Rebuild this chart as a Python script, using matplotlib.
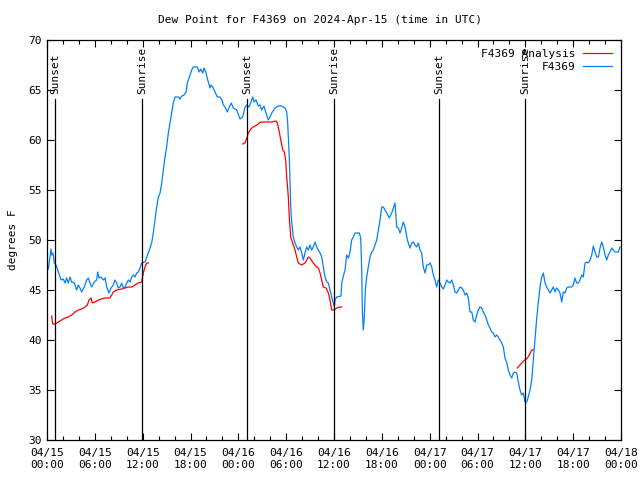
#! /usr/bin/env python3

import matplotlib
matplotlib.use("Agg")
import matplotlib.pyplot as plt
import matplotlib.dates as mdates
import numpy as np
import pandas as pd

plt.rcParams['font.family'] = ['DejaVu Sans Mono']
plt.rcParams['font.size'] = 8

start = pd.Timestamp("2024-04-15 00:00")

# hours since 04/15 00:00 UTC, dew point in degrees F
obs_hours = [0.0, 0.16, 0.50, 0.59, 0.75, 0.92, 1.13, 1.42, 1.76, 2.04, 2.26, 2.47, 2.67, 2.89,
             3.10, 3.42, 3.73, 3.93, 4.14, 4.35, 4.68, 4.98, 5.18, 5.39, 5.61, 5.93, 6.23, 6.36,
             6.52, 6.77, 7.06, 7.28, 7.49, 7.78, 8.03, 8.32, 8.53, 8.74, 8.94, 9.16, 9.37, 9.57,
             9.78, 10.00, 10.20, 10.41, 10.62, 10.83, 11.04, 11.25, 11.45, 11.67, 11.88, 12.29,
             12.71, 13.13, 13.33, 13.55, 13.76, 13.96, 14.18, 14.39, 14.59, 14.80, 15.01, 15.22,
             15.43, 15.64, 15.84, 16.06, 16.47, 16.68, 16.90, 17.19, 17.44, 17.60, 17.85, 18.15,
             18.35, 18.85, 19.10, 19.28, 19.53, 19.69, 19.95, 20.16, 20.45, 20.57, 20.79, 21.07,
             21.36, 21.70, 21.95, 22.12, 22.33, 22.62, 22.87, 23.12, 23.37, 23.80, 24.21, 24.55,
             24.80, 25.05, 25.34, 25.59, 25.80, 25.97, 26.22, 26.51, 26.72, 26.93, 27.22, 27.47,
             27.76, 27.97, 28.19, 28.60, 29.01, 29.44, 29.85, 30.07, 30.19, 30.27, 30.39, 30.48,
             30.57, 30.70, 30.90, 31.11, 31.32, 31.52, 31.74, 31.95, 32.15, 32.36, 32.58, 32.78,
             32.99, 33.20, 33.40, 33.62, 33.83, 34.03, 34.25, 34.46, 34.66, 34.87, 35.09, 35.29,
             35.50, 35.71, 35.91, 36.04, 36.13, 36.34, 36.88, 36.97, 37.17, 37.38, 37.59, 37.80,
             38.01, 38.22, 38.42, 38.64, 39.18, 39.35, 39.48, 39.55, 39.68, 39.80, 39.93, 40.10,
             40.30, 40.52, 40.73, 40.93, 41.14, 41.36, 41.56, 41.77, 41.99, 42.19, 42.40, 42.61,
             42.94, 43.24, 43.65, 43.87, 44.07, 44.28, 44.49, 44.69, 44.91, 45.20, 45.53, 45.75,
             45.95, 46.16, 46.37, 46.58, 46.79, 47.00, 47.20, 47.42, 47.63, 47.83, 48.05, 48.26,
             48.46, 48.67, 48.88, 49.09, 49.30, 49.51, 49.71, 49.93, 50.14, 50.34, 50.55, 50.77,
             50.97, 51.18, 51.39, 51.60, 51.81, 52.02, 52.22, 52.44, 52.65, 52.85, 53.06, 53.28,
             53.48, 53.69, 53.90, 54.10, 54.32, 54.53, 54.73, 54.94, 55.16, 55.36, 55.57, 55.78,
             55.98, 56.20, 56.41, 56.61, 56.83, 57.04, 57.24, 57.45, 57.67, 57.87, 58.08, 58.29,
             58.49, 58.71, 58.92, 59.12, 59.33, 59.54, 59.75, 59.96, 60.17, 60.37, 60.59, 60.80,
             61.00, 61.22, 61.43, 61.63, 61.84, 62.06, 62.26, 62.47, 62.68, 62.89, 63.10, 63.31,
             63.51, 63.72, 63.94, 64.14, 64.35, 64.56, 64.76, 64.98, 65.19, 65.39, 65.82, 66.02,
             66.23, 66.44, 66.65, 66.86, 67.07, 67.27, 67.49, 67.70, 67.90, 68.12, 68.33, 68.53,
             68.74, 68.96, 69.16, 69.37, 69.58, 69.78, 70.00, 70.21, 70.41, 70.62, 70.84, 71.04,
             71.25, 71.67, 71.88]
obs_dewpt = [47.0, 47.1, 49.1, 48.5, 48.7, 47.7, 47.5, 46.8, 46.0, 46.1, 45.7, 46.2, 45.7, 46.3,
             45.8, 45.7, 45.0, 45.5, 45.2, 44.8, 45.3, 46.0, 46.2, 45.7, 45.3, 45.8, 46.0, 46.8,
             46.2, 46.3, 46.0, 46.2, 45.3, 44.7, 45.2, 45.5, 46.0, 45.7, 45.2, 45.3, 45.7, 45.2,
             45.3, 45.7, 46.0, 45.8, 46.3, 46.5, 46.3, 46.7, 46.8, 47.2, 47.7, 47.8,
             48.7, 49.7, 50.7, 52.0, 53.3, 54.3, 54.7, 55.7, 57.0, 58.3, 59.3, 60.7,
             61.7, 62.7, 63.7, 64.3, 64.3, 64.1, 64.4, 64.5, 64.8, 65.7, 66.3, 67.0,
             67.3, 67.3, 66.8, 67.1, 66.7, 67.2, 66.7, 66.0, 65.2, 65.5, 65.3, 64.8,
             64.3, 64.3, 64.0, 63.5, 63.3, 62.8, 63.3, 63.7, 63.2, 63.0, 62.1, 62.3,
             63.2, 63.5, 63.3, 63.8, 64.3, 63.8, 64.0, 63.4, 63.5, 63.0, 63.4, 62.7,
             62.0, 62.3, 62.7, 63.2, 63.4, 63.4, 63.2, 62.8, 61.7, 60.3, 58.3, 55.7,
             53.3, 51.7, 50.3, 49.7, 49.3, 49.0, 49.3, 48.7, 48.0, 48.7, 49.3, 49.0,
             49.5, 49.0, 49.3, 49.8, 49.3, 49.0, 48.7, 48.3, 47.3, 46.3, 45.8, 45.7,
             45.0, 44.3, 43.7, 43.3, 44.0, 44.3, 44.4, 45.7, 46.4, 47.0, 48.5, 48.2,
             48.8, 50.0, 50.3, 50.7, 50.7, 50.2, 47.0, 43.0, 41.0, 42.3, 45.0, 46.3,
             47.3, 48.3, 48.8, 49.0, 49.5, 50.0, 51.0, 52.0, 53.3, 53.3, 53.0, 52.7,
             52.2, 52.7, 53.7, 51.3, 51.2, 50.7, 51.2, 51.8, 51.3, 50.0, 49.2, 49.7,
             49.8, 49.5, 49.3, 49.7, 49.0, 48.7, 47.3, 46.7, 47.5, 47.5, 47.7, 47.3,
             46.5, 46.0, 45.3, 46.0, 45.7, 45.3, 45.1, 45.5, 46.0, 45.8, 45.7, 46.0,
             45.5, 44.8, 44.7, 45.0, 45.3, 45.2, 45.0, 44.5, 44.7, 44.2, 42.8, 42.8,
             42.0, 41.8, 42.5, 43.0, 43.3, 43.2, 42.8, 42.5, 42.0, 41.5, 41.2, 40.8,
             40.7, 40.3, 40.5, 40.3, 40.0, 39.7, 39.3, 38.2, 37.7, 37.0, 36.5, 36.2,
             36.7, 36.8, 36.7, 35.8, 35.0, 34.5, 34.7, 33.8, 33.8, 34.3, 35.0, 36.0,
             38.0, 40.3, 42.2, 43.8, 45.3, 46.3, 46.7, 45.7, 45.3, 45.0, 44.7, 45.0,
             45.3, 44.8, 45.2, 45.0, 44.7, 43.8, 44.8, 44.7, 45.2, 45.3, 45.3, 45.5,
             46.2, 45.7, 45.7, 46.0, 46.5, 46.3, 47.7, 47.8, 47.7, 48.0, 48.5, 49.4,
             48.8, 48.3, 48.3, 49.2, 49.8, 49.3, 48.5, 48.0, 48.5, 48.8, 49.2, 49.0,
             48.8, 48.8, 49.3]

# analysis runs (three separate pieces)
ana1_hours = [0.59, 0.72, 1.00, 1.42, 1.84, 2.26, 2.67, 3.10, 3.51, 3.93, 4.35, 4.77, 5.06, 5.27,
              5.52, 5.68, 6.02, 6.44, 6.86, 7.28, 7.90, 8.32, 8.74, 9.37, 9.78, 10.20, 10.62,
              11.04, 11.45, 11.88, 12.08, 12.29, 12.51, 12.71]
ana1_dewpt = [42.4, 41.6, 41.6, 41.8, 42.0, 42.2, 42.3, 42.5, 42.8, 43.0, 43.1, 43.3, 43.5, 44.0,
              44.2, 43.7, 43.8, 44.0, 44.1, 44.2, 44.2, 44.8, 45.0, 45.1, 45.2, 45.3, 45.3,
              45.5, 45.7, 45.8, 46.7, 47.3, 47.7, 47.7]
ana2_hours = [24.55, 24.84, 25.05, 25.25, 25.55, 25.88, 26.31, 26.81, 27.56, 28.19, 28.73, 28.89,
              29.14, 29.32, 29.57, 29.77, 29.94, 30.07, 30.27, 30.39, 30.57, 30.82, 31.11, 31.32,
              31.52, 31.95, 32.36, 32.78, 32.99, 33.40, 33.83, 34.03, 34.25, 34.46, 34.66, 35.00,
              35.29, 35.50, 35.71, 36.04, 36.34, 36.75, 36.97]
ana2_dewpt = [59.6, 59.7, 60.2, 60.7, 61.1, 61.3, 61.5, 61.8, 61.8, 61.8, 61.9, 61.7,
              60.8, 60.0, 59.0, 58.8, 58.0, 56.3, 54.3, 52.3, 50.3, 49.7, 49.0, 48.3,
              47.7, 47.5, 47.7, 48.3, 48.2, 47.7, 47.3, 47.2, 46.7, 46.0, 45.3, 45.2,
              44.7, 44.0, 43.0, 43.0, 43.2, 43.3, 43.3]
ana3_hours = [58.99, 59.33, 59.67, 59.96, 60.25, 60.50, 60.80, 61.00]
ana3_dewpt = [37.2, 37.5, 37.8, 38.0, 38.2, 38.5, 39.0, 39.0]

sun_hours = [1.0, 11.92, 25.09, 36.0, 49.17, 59.96]
sun_labels = ["Sunset", "Sunrise", "Sunset", "Sunrise", "Sunset", "Sunrise"]


def to_time(hours):
	return start + pd.to_timedelta(np.array(hours), unit="h")


#----- plot -----#
fig = plt.figure(figsize=(6.4, 4.8), dpi=100)
ax = fig.add_axes([47/640, 40/480, 574/640, 400/480])

for i, (h, d) in enumerate([(ana1_hours, ana1_dewpt), (ana2_hours, ana2_dewpt),
                            (ana3_hours, ana3_dewpt)]):
	ax.plot(to_time(h), d, color="#ff0000", lw=0.9,
	        label="F4369 Analysis" if i == 0 else None)
ax.plot(to_time(obs_hours), obs_dewpt, color="#0080ff", lw=0.9, label="F4369")

for h, lab in zip(sun_hours, sun_labels):
	t = to_time([h])[0]
	ax.plot([t, t], [30, 64.1], color="black", lw=0.9)
	ax.text(t, 64.6, lab, rotation=90, ha="center", va="bottom", fontsize=8)

ax.set_xlim(start, start + pd.Timedelta(hours=72))
ax.set_ylim(30, 70)
ax.set_yticks(range(30, 71, 5))
ax.xaxis.set_major_locator(mdates.HourLocator(byhour=range(0, 24, 6)))
ax.xaxis.set_minor_locator(mdates.HourLocator(byhour=range(0, 24, 2)))
ax.xaxis.set_major_formatter(mdates.DateFormatter("%m/%d\n%H:%M"))
ax.tick_params(which="both", direction="in", top=True, right=True, labelsize=8)
ax.tick_params(which="major", length=5, width=0.8)
ax.tick_params(which="minor", length=3, width=0.8)
ax.tick_params(axis="x", pad=6)
for s in ax.spines.values():
	s.set_linewidth(0.9)

ax.set_ylabel("degrees F", fontsize=8, labelpad=8)
fig.text(0.5, 1 - 20/480, "Dew Point for F4369 on 2024-Apr-15 (time in UTC)",
         ha="center", va="center", fontsize=8)

leg = ax.legend(loc="upper right", frameon=False, fontsize=8, markerfirst=False,
                handlelength=2.6, handletextpad=0.7, borderaxespad=0.6,
                labelspacing=0.25, borderpad=0.2)
for t in leg.get_texts():
	t.set_ha("right")

fig.savefig("out.png", dpi=100)
